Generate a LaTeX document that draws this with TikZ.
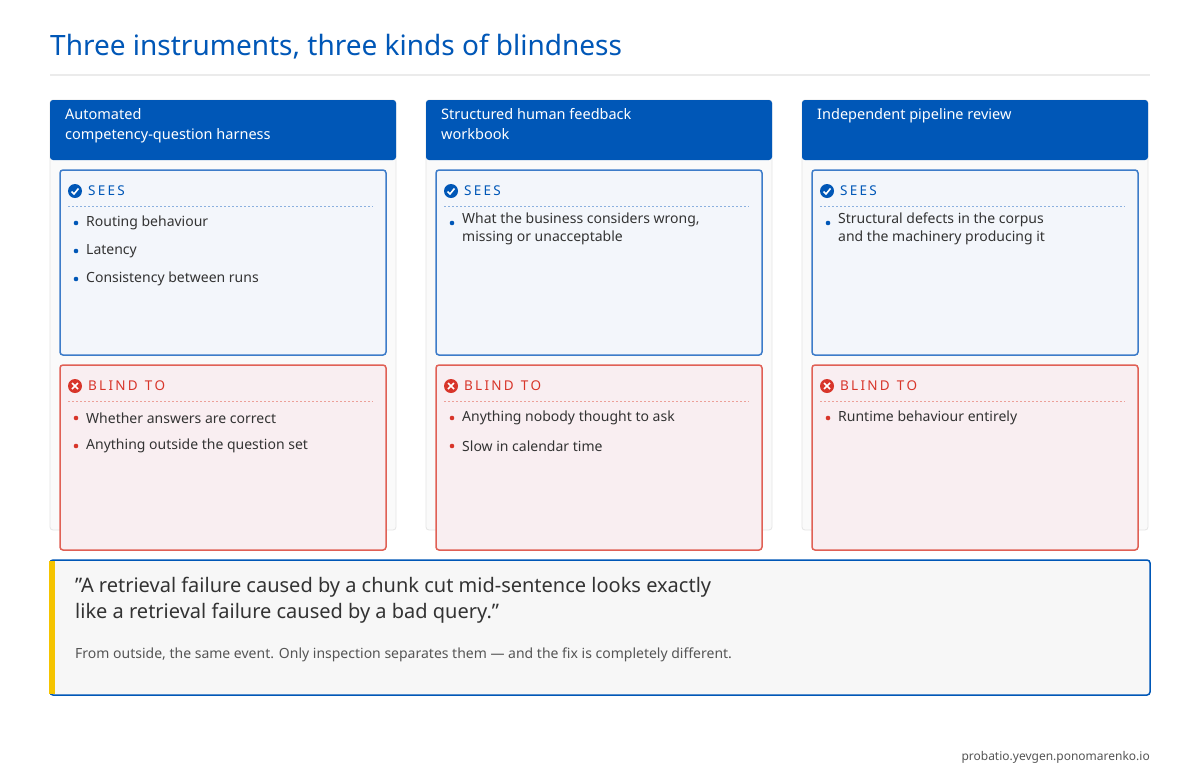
\documentclass[tikz,border=0pt]{standalone}
\usepackage{fontspec}
\setmainfont{Noto Sans}
\definecolor{blu}{HTML}{0057B7}
\definecolor{sbord}{HTML}{3D7CC9}
\definecolor{sfill}{HTML}{F3F6FB}
\definecolor{rbord}{HTML}{E06055}
\definecolor{rfill}{HTML}{F9EEF1}
\definecolor{rtxt}{HTML}{D8352A}
\definecolor{txt}{HTML}{333333}
\definecolor{gry}{HTML}{555555}
\definecolor{ylw}{HTML}{F5C400}
\begin{document}
\begin{tikzpicture}[x=1pt,y=-1pt,
 card/.style={draw=black!10,fill=black!2,rounded corners=3pt,line width=0.8pt},
 hdr/.style={fill=blu},
 htxt/.style={anchor=north west,text=white,font=\fontsize{14.5}{20}\selectfont\bfseries,align=left,inner sep=0pt},
 sbox/.style={draw=sbord,fill=sfill,line width=1.5pt,rounded corners=3pt},
 rbox/.style={draw=rbord,fill=rfill,line width=1.5pt,rounded corners=3pt},
 lab/.style={anchor=west,font=\fontsize{13.5}{16}\selectfont\bfseries,inner sep=0pt},
 item/.style={anchor=west,text=txt,font=\fontsize{14}{18}\selectfont,align=left,inner sep=0pt},
]
\useasboundingbox[fill=white] (0,0) rectangle (1200,780);
\node[anchor=base west,inner sep=0pt,text=blu,font=\fontsize{28}{32}\selectfont\bfseries] (title) at (50,55) {Three instruments, three kinds of blindness};
\draw[black!8,line width=1.5pt] (50,75) -- (1150,75);
\foreach \x/\h/\s/\b [count=\i] in {
 50/{Automated\\competency-question harness}/{Routing behaviour,Latency,Consistency between runs}/{Whether answers are correct,Anything outside the question set},
 426/{Structured human feedback\\workbook}/{What the business considers wrong,}/{Anything nobody thought to ask,Slow in calendar time},
 802/{Independent pipeline review}/{Structural defects in the corpus,}/{Runtime behaviour entirely}}{
 \draw[card] (\x,100) rectangle ++(346,430);
 \path[hdr,rounded corners=3pt] (\x,160) -- (\x,100) -- ++(346,0) -- ++(0,60) -- cycle;
 \node[htxt] (h\i) at (\x+15,108) {\h};
 \draw[sbox] (\x+10,170) rectangle ++(326,185);
 \draw[rbox] (\x+10,365) rectangle ++(326,185);
 % sees icon
 \fill[blu] (\x+25,191) circle (7);
 \draw[white,line width=1.6pt] (\x+21.5,191.5) -- (\x+24,194) -- (\x+28.5,188.5);
 \node[lab,text=blu] (s\i) at (\x+38,191) {S\,E\,E\,S};
 \draw[sbord!60,dashed,dash pattern=on 2pt off 2pt,line width=1pt] (\x+18,206) -- (\x+323,206);
 % blind icon
 \fill[rtxt] (\x+25,386) circle (7);
 \draw[white,line width=1.6pt] (\x+22,383) -- (\x+28,389) (\x+28,383) -- (\x+22,389);
 \node[lab,text=rtxt] (b\i) at (\x+38,386) {B\,L\,I\,N\,D\ \ T\,O};
 \draw[rbord!60,dash pattern=on 2pt off 2pt,line width=1pt] (\x+18,401) -- (\x+323,401);
}
% sees items
\newcommand\sitem[3]{\fill[blu] (#1+26,#2) circle (2.3); \node[item] at (#1+36,#2) {#3};}
\newcommand\ritem[3]{\fill[rtxt] (#1+26,#2) circle (2.3); \node[item] at (#1+36,#2) {#3};}
\sitem{50}{223}{Routing behaviour}
\sitem{50}{251}{Latency}
\sitem{50}{279}{Consistency between runs}
\ritem{50}{418}{Whether answers are correct}
\ritem{50}{446}{Anything outside the question set}
\fill[blu] (452,223) circle (2.3);
\node[item,anchor=north west] at (462,213) {What the business considers wrong,\\missing or unacceptable};
\ritem{426}{418}{Anything nobody thought to ask}
\ritem{426}{446}{Slow in calendar time}
\fill[blu] (828,223) circle (2.3);
\node[item,anchor=north west] at (838,213) {Structural defects in the corpus\\and the machinery producing it};
\ritem{802}{418}{Runtime behaviour entirely}
% quote
\draw[draw=blu,fill=black!3,line width=1.5pt,rounded corners=3pt] (50,560) rectangle (1150,695);
\fill[ylw] (49.25,560.75) rectangle (55,694.25);
\node[anchor=north west,inner sep=0pt,align=left,text=txt,font=\fontsize{20}{26}\selectfont\bfseries] (q) at (75,577) {"A retrieval failure caused by a chunk cut mid-sentence looks exactly\\like a retrieval failure caused by a bad query."};
\node[anchor=base west,inner sep=0pt,text=gry,font=\fontsize{14}{18}\selectfont] (sub) at (75,658) {From outside, the same event. Only inspection separates them — and the fix is completely different.};
\node[anchor=base east,inner sep=0pt,text=gry,font=\fontsize{12}{14}\selectfont] (foot) at (1150,760) {probatio.yevgen.ponomarenko.io};
\end{tikzpicture}
\end{document}
